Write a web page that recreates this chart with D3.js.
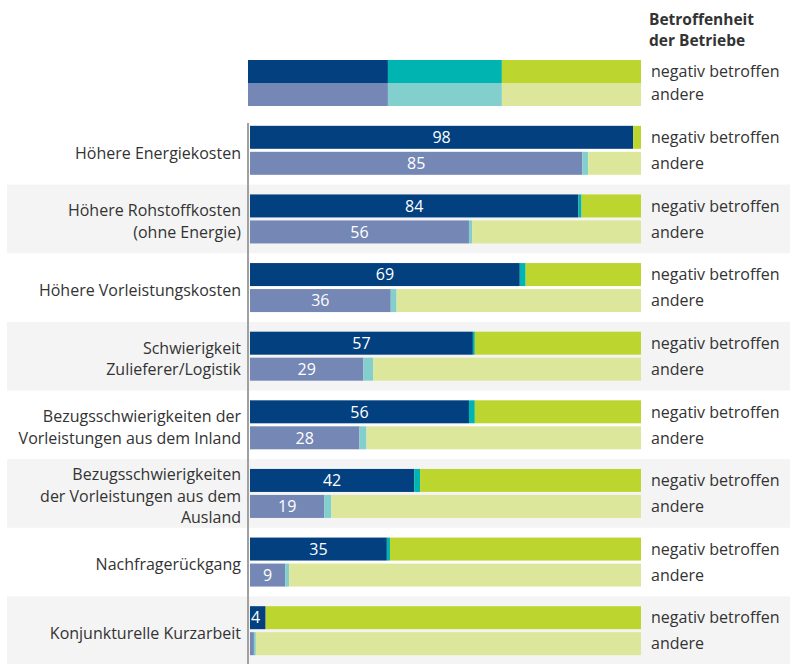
<!DOCTYPE html>
<html>
<head>
<meta charset="utf-8">
<script src="https://cdn.jsdelivr.net/npm/d3@7"></script>
<style>
  body { margin: 0; background: #fff; }
  text { font-family: "Open Sans", "Noto Sans", sans-serif; fill: #333; }
</style>
</head>
<body>
<script>
//Stacked 100% bars: share of firms affected, negativ betroffen vs. andere

var W = 790;
var H = 664;

//Data (percent)
var categories = [
  "Höhere Energiekosten",
  "Höhere Rohstoffkosten\n(ohne Energie)",
  "Höhere Vorleistungskosten",
  "Schwierigkeit\nZulieferer/Logistik",
  "Bezugsschwierigkeiten der\nVorleistungen aus dem Inland",
  "Bezugsschwierigkeiten\nder Vorleistungen aus dem\nAusland",
  "Nachfragerückgang",
  "Konjunkturelle Kurzarbeit"
];
var groups = ["negativ betroffen", "andere"];
var negYes   = [98, 84, 69, 57, 56, 42, 35, 4];
var negMid   = [0, 0.8, 1.5, 0.5, 1.5, 1.5, 0.8, 0];
var otherYes = [85, 56, 36, 29, 28, 19, 9, 1];
var otherMid = [1.5, 0.8, 1.5, 2.5, 1.8, 1.8, 1, 0.5];
var legendParts = [35.6, 29, 35.4];
var legendTitle = ["Betroffenheit", "der Betriebe"];

var colors = {
  "negativ betroffen": ["#02407f", "#00b5b1", "#bdd62f"],
  "andere": ["#7587b5", "#82cfcd", "#dde79b"]
};

var FS = "16px";

function main() {
  var svg = d3.select("body").append("svg")
    .attr("width", W)
    .attr("height", H);

  var x = d3.scaleLinear().domain([0, 100]).range([250, 641]);
  var y = d3.scaleBand().domain(categories).range([116, 665]).paddingInner(0);
  var barH = 23;

  //Alternating background bands
  svg.selectAll("rect.band")
    .data(categories.filter(function(d, i) { return i % 2 == 1; }))
    .enter()
    .append("rect")
    .attr("class", "band")
    .attr("x", 7)
    .attr("y", function(d) { return y(d); })
    .attr("width", W - 7)
    .attr("height", y.bandwidth())
    .style("fill", "#f4f4f4");

  //Build rows with three segments each
  var rows = [];
  categories.forEach(function(c, i) {
    rows.push({cat: c, group: "negativ betroffen", yes: negYes[i], mid: negMid[i]});
    rows.push({cat: c, group: "andere", yes: otherYes[i], mid: otherMid[i]});
  });

  function rowTop(d) {
    var c = y(d.cat) + y.bandwidth() / 2;
    return d.group == "negativ betroffen" ? c - 24.5 : c + 1.5;
  }

  var g = svg.selectAll("g.row")
    .data(rows)
    .enter()
    .append("g")
    .attr("class", "row")
    .attr("transform", function(d) { return "translate(0," + rowTop(d) + ")"; });

  g.each(function(d) {
    var segs = [
      [0, d.yes],
      [d.yes, d.yes + d.mid],
      [d.yes + d.mid, 100]
    ];
    d3.select(this).selectAll("rect")
      .data(segs)
      .enter()
      .append("rect")
      .attr("x", function(s) { return x(s[0]); })
      .attr("width", function(s) { return Math.max(0, x(s[1]) - x(s[0])); })
      .attr("height", barH)
      .style("fill", function(s, j) { return colors[d.group][j]; });
  });

  //Value labels
  g.filter(function(d) { return d.yes >= 3; })
    .append("text")
    .attr("x", function(d) { return d.yes < 6 ? x(0) + 1 : (x(0) + x(d.yes)) / 2; })
    .attr("y", barH / 2)
    .attr("dy", "0.36em")
    .attr("text-anchor", function(d) { return d.yes < 6 ? "start" : "middle"; })
    .style("fill", "#fff")
    .style("font-size", "16px")
    .text(function(d) { return d.yes; });

  //Group labels on the right
  g.append("text")
    .attr("x", 651)
    .attr("y", barH / 2)
    .attr("dy", "0.36em")
    .style("font-size", FS)
    .text(function(d) { return d.group; });

  //Axis line on the left
  var axis = d3.axisLeft(y).tickSize(0).tickFormat("");
  var ax = svg.append("g")
    .attr("transform", "translate(248,0)")
    .call(axis);
  ax.select(".domain")
    .attr("d", "M0," + (y.range()[0] + 7) + "V" + H)
    .style("stroke", "#a0a0a0")
    .style("stroke-width", 2);

  //Category labels, possibly on several lines
  var lineH = 21.5;
  svg.selectAll("text.cat")
    .data(categories)
    .enter()
    .append("text")
    .attr("class", "cat")
    .attr("text-anchor", "end")
    .style("font-size", FS)
    .each(function(d) {
      var lines = d.split("\n");
      var c = y(d) + y.bandwidth() / 2 + 2.5;
      var t = d3.select(this);
      lines.forEach(function(l, k) {
        t.append("tspan")
          .attr("x", 241)
          .attr("y", c + (k - (lines.length - 1) / 2) * lineH)
          .attr("dy", "0.36em")
          .text(l);
      });
    });

  //Legend
  var lx = d3.scaleLinear().domain([0, 100]).range([248, 641]);
  var leg = svg.selectAll("g.legend")
    .data(groups)
    .enter()
    .append("g")
    .attr("class", "legend")
    .attr("transform", function(d, i) { return "translate(0," + (60 + i * 23) + ")"; });

  leg.each(function(grp) {
    var acc = 0;
    var segs = legendParts.map(function(p) { var s = [acc, acc + p]; acc += p; return s; });
    d3.select(this).selectAll("rect")
      .data(segs)
      .enter()
      .append("rect")
      .attr("x", function(s) { return lx(s[0]); })
      .attr("width", function(s) { return lx(s[1]) - lx(s[0]); })
      .attr("height", 23)
      .style("fill", function(s, j) { return colors[grp][j]; });
  });

  leg.append("text")
    .attr("x", 651)
    .attr("y", 11.5)
    .attr("dy", "0.36em")
    .style("font-size", FS)
    .text(function(d) { return d; });

  svg.append("text")
    .attr("x", 649)
    .style("font-size", "15.5px")
    .style("font-weight", "bold")
    .selectAll("tspan")
    .data(legendTitle)
    .enter()
    .append("tspan")
    .attr("x", 649)
    .attr("y", function(d, i) { return 25 + i * 20.5; })
    .text(function(d) { return d; });
}

main();
</script>
</body>
</html>
